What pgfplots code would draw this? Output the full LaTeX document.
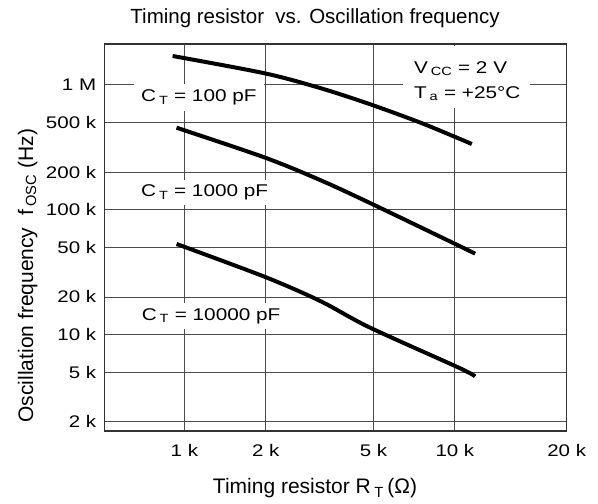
\documentclass[border=0pt]{standalone}
\usepackage{fontspec}
\setmainfont{Liberation Sans}
\newfontfamily\wide{Liberation Sans}[FakeStretch=1.22]
\usepackage{pgfplots}
\pgfplotsset{compat=1.18}
\begin{document}
\begin{tikzpicture}
\begin{axis}[name=ax, scale only axis, width=462.4pt, height=387pt,
  xmode=log, ymode=log,
  xmin=506, xmax=25900, ymin=1690, ymax=2.12e6,
  xtick={1000,2000,5000,10000}, xticklabels={1 k,2 k,5 k,10 k},
  extra x ticks={25900}, extra x tick labels={20 k},
  extra x tick style={grid=none},
  ytick={2000,5000,10000,20000,50000,100000,200000,500000,1000000},
  yticklabels={2 k,5 k,10 k,20 k,50 k,100 k,200 k,500 k,1 M},
  minor xtick={}, minor ytick={},
  grid=major, major grid style={black!70, line width=0.9pt},
  major tick length=0pt, tick style={draw=none},
  axis line style={black!80, line width=1.2pt},
  tick label style={font=\wide\fontsize{16.8}{20}\selectfont, inner sep=0pt},
  yticklabel style={xshift=-8pt},
  xticklabel style={yshift=-13pt},
  clip=false]
\addplot[black, line width=4pt, smooth] coordinates {
  (905,1.70e6) (1982,1.235e6) (3173,9.42e5) (4829,7.015e5) (7434,4.986e5) (10300,3.727e5) (11550,3.355e5)};
\addplot[black, line width=4pt, smooth] coordinates {
  (936,4.53e5) (1982,2.616e5) (3173,1.728e5) (4829,1.137e5) (10300,5.166e4) (11880,4.44e4)};
\addplot[black, line width=4pt, smooth] coordinates {
  (936,5.31e4) (1982,2.90e4) (3173,1.86e4) (4829,1.143e4) (10300,5.45e3) (11880,4.63e3)};
\tikzset{lab/.style={font=\wide\fontsize{17}{20}\selectfont, fill=white, inner xsep=7pt, inner ysep=5pt, anchor=base west}}
\node[lab, inner ysep=6pt] at (rel axis cs:0.0642,0.8509) {C\,\textsubscript{T} = 100 pF};
\node[lab] at (rel axis cs:0.0642,0.6054) {C\,\textsubscript{T} = 1000 pF};
\node[lab] at (rel axis cs:0.0657,0.2868) {C\,\textsubscript{T} = 10000 pF};
\fill[white] (rel axis cs:0.6460,0.9961) rectangle (rel axis cs:0.9205,0.8346);
\node[font=\wide\fontsize{17}{20}\selectfont, inner sep=0pt, anchor=base west] at (rel axis cs:0.6698,0.9243) {V\,\textsubscript{CC} = 2 V};
\node[font=\wide\fontsize{17}{20}\selectfont, inner sep=0pt, anchor=base west] at (rel axis cs:0.6698,0.8597) {T\,\textsubscript{a} = +25°C};
\node[font=\fontsize{20.5}{24}\selectfont, inner sep=0pt, anchor=base] at (rel axis cs:0.4557,1.0517) {Timing resistor\ \ vs. Oscillation frequency};
\node[font=\fontsize{21}{24}\selectfont, inner sep=0pt, anchor=base] at (rel axis cs:0.4557,-0.1628) {Timing resistor R\,\textsubscript{T}\,(Ω)};
\node[font=\fontsize{21}{24}\selectfont, inner sep=0pt, anchor=base, rotate=90] at (rel axis cs:-0.1542,0.4018) {Oscillation frequency\ \ f\,\textsubscript{OSC} (Hz)};
\end{axis}
\pgfresetboundingbox
\path[use as bounding box] (ax.south west) ++(-104.3pt,-73pt) rectangle ++(598pt,504pt);
\end{tikzpicture}
\end{document}
